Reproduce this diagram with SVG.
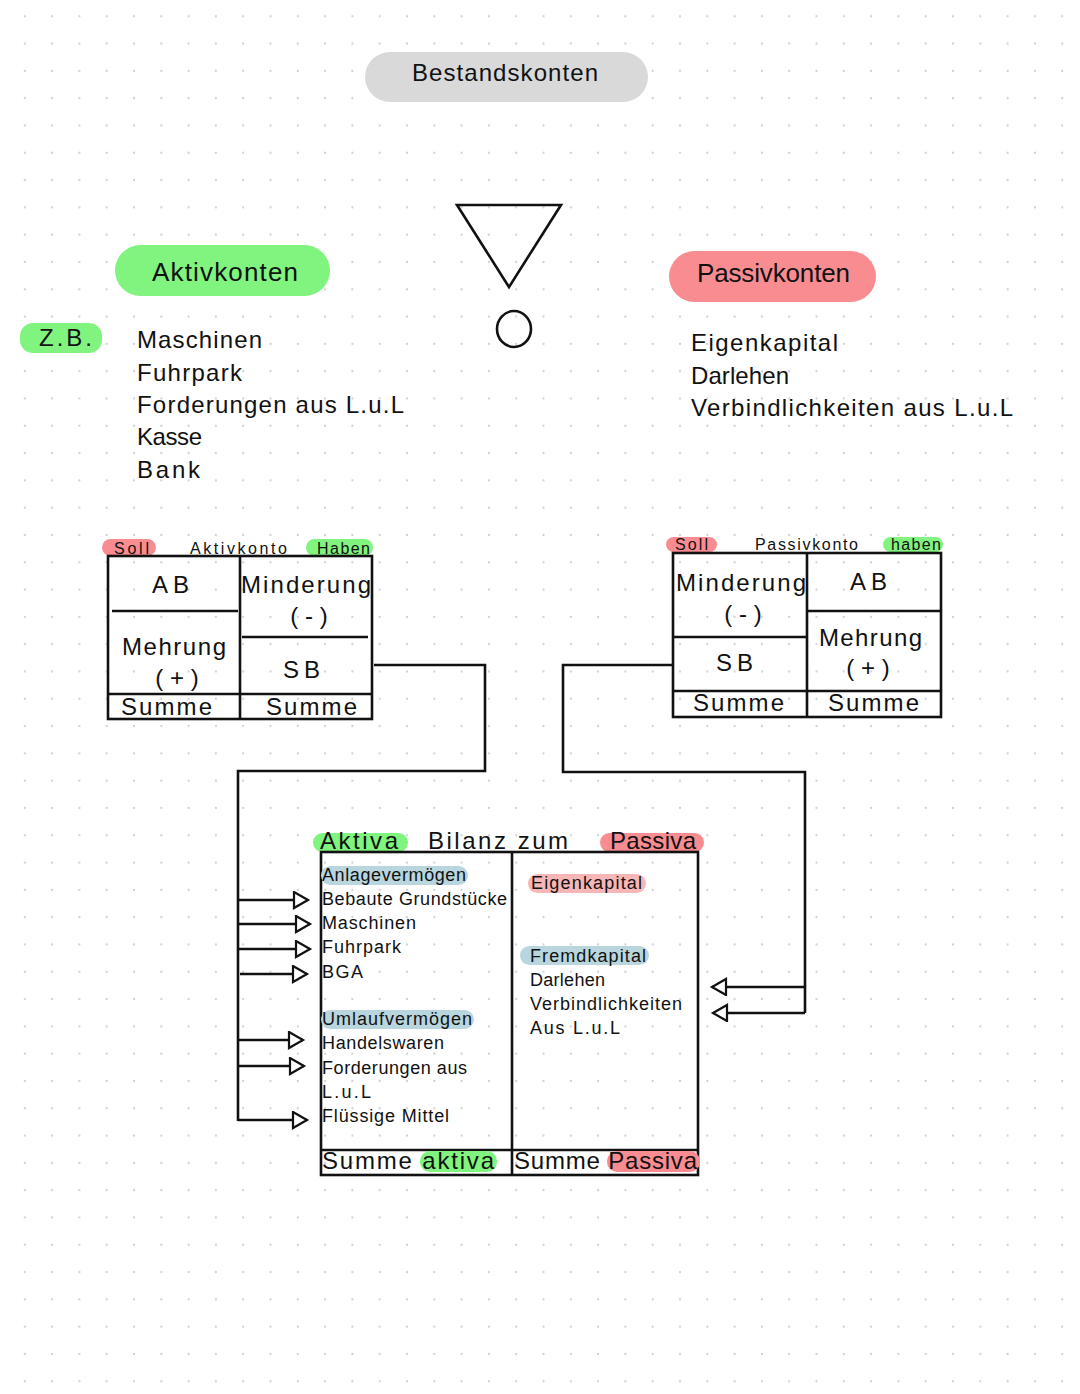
<svg xmlns="http://www.w3.org/2000/svg" width="1080" height="1394" viewBox="0 0 1080 1394">
<style>
text{font-family:"Liberation Sans","DejaVu Sans",sans-serif;fill:#111}
.big{font-size:26px}
.mid{font-size:24px}
.sm{font-size:18px}
.xs{font-size:16px}
.ln{stroke:#111;stroke-width:2.6;fill:none}
.box{stroke:#111;stroke-width:2.6;fill:none}
.c{text-anchor:middle}
</style>
<defs>
<pattern id="dots" width="27.3" height="27.3" patternUnits="userSpaceOnUse" x="11.15" y="2.65">
<circle cx="13.65" cy="13.65" r="1.1" fill="#cfcfcf"/>
</pattern>
<marker id="tri" markerUnits="userSpaceOnUse" markerWidth="20" markerHeight="22" refX="16" refY="9" orient="auto" viewBox="0 0 20 22">
<path d="M2,1 L16,9 L2,17 Z" fill="#fff" stroke="#111" stroke-width="2.2" stroke-linejoin="miter"/>
</marker>
</defs>
<rect width="1080" height="1394" fill="#fff"/>
<rect width="1080" height="1394" fill="url(#dots)"/>

<g id="bestandskonten">
<rect x="365" y="52" width="283" height="50" rx="25" fill="#d9d9d9"/>
<text class="mid" x="412" y="81" textLength="186">Bestandskonten</text>
</g>

<g id="symbol">
<polygon points="457,205 561,205 509,287" fill="none" stroke="#111" stroke-width="2.6"/>
<ellipse cx="514" cy="329" rx="17" ry="18" fill="none" stroke="#111" stroke-width="2.6"/>
</g>

<g id="aktivkonten">
<rect x="115" y="245" width="215" height="51" rx="25.5" fill="#80f47e"/>
<text class="big" x="152" y="281" textLength="146">Aktivkonten</text>
</g>

<g id="passivkonten">
<rect x="669" y="251" width="207" height="51" rx="25.5" fill="#f98c90"/>
<text class="big" x="697" y="282" textLength="153">Passivkonten</text>
</g>

<g id="zb">
<rect x="20" y="323" width="82" height="30" rx="13" fill="#80f47e"/>
<text class="mid" x="39" y="346" textLength="53">Z.B.</text>
</g>

<g id="aktiv-liste">
<text class="mid" x="137" y="348" textLength="125">Maschinen</text>
<text class="mid" x="137" y="381" textLength="105">Fuhrpark</text>
<text class="mid" x="137" y="413" textLength="267">Forderungen aus L.u.L</text>
<text class="mid" x="137" y="445" textLength="65">Kasse</text>
<text class="mid" x="137" y="478" textLength="63">Bank</text>
</g>

<g id="passiv-liste">
<text class="mid" x="691" y="351" textLength="147">Eigenkapital</text>
<text class="mid" x="691" y="384" textLength="98">Darlehen</text>
<text class="mid" x="691" y="416" textLength="322">Verbindlichkeiten aus L.u.L</text>
</g>

<g id="aktivkonto">
<rect x="102" y="539" width="54" height="17" rx="8.5" fill="#f98c90"/>
<rect x="306" y="539" width="67" height="17" rx="8.5" fill="#80f47e"/>
<text class="xs" x="114" y="554" textLength="35">Soll</text>
<text class="xs" x="190" y="554" textLength="97">Aktivkonto</text>
<text class="xs" x="317" y="554" textLength="53">Haben</text>
<rect class="box" x="108" y="556" width="264" height="163"/>
<line class="ln" x1="240" y1="556" x2="240" y2="719"/>
<line class="ln" x1="112" y1="611" x2="238" y2="611"/>
<line class="ln" x1="242" y1="637" x2="368" y2="637"/>
<line class="ln" x1="108" y1="694" x2="372" y2="694"/>
<text class="mid" x="152" y="593" textLength="37">AB</text>
<text class="mid" x="241" y="593" textLength="130">Minderung</text>
<text class="mid c" x="309" y="624">( - )</text>
<text class="mid" x="122" y="655" textLength="104">Mehrung</text>
<text class="mid c" x="177" y="686">( + )</text>
<text class="mid" x="283" y="678" textLength="37">SB</text>
<text class="mid" x="121" y="715" textLength="91">Summe</text>
<text class="mid" x="266" y="715" textLength="91">Summe</text>
</g>

<g id="passivkonto">
<rect x="666" y="537" width="51" height="15" rx="7.5" fill="#f98c90"/>
<rect x="883" y="537" width="60" height="15" rx="7.5" fill="#80f47e"/>
<text class="xs" x="675" y="550" textLength="33">Soll</text>
<text class="xs" x="755" y="550" textLength="103">Passivkonto</text>
<text class="xs" x="891" y="550" textLength="50">haben</text>
<rect class="box" x="673" y="553" width="268" height="164"/>
<line class="ln" x1="807" y1="553" x2="807" y2="717"/>
<line class="ln" x1="673" y1="637" x2="807" y2="637"/>
<line class="ln" x1="807" y1="611" x2="941" y2="611"/>
<line class="ln" x1="673" y1="691" x2="941" y2="691"/>
<text class="mid" x="676" y="591" textLength="130">Minderung</text>
<text class="mid c" x="743" y="622">( - )</text>
<text class="mid" x="850" y="590" textLength="37">AB</text>
<text class="mid" x="716" y="671" textLength="37">SB</text>
<text class="mid" x="819" y="646" textLength="103">Mehrung</text>
<text class="mid c" x="868" y="676">( + )</text>
<text class="mid" x="693" y="711" textLength="91">Summe</text>
<text class="mid" x="828" y="711" textLength="91">Summe</text>
</g>

<g id="bilanz">
<rect x="313" y="833" width="95" height="19" rx="9.5" fill="#80f47e"/>
<rect x="600" y="833" width="104" height="19" rx="9.5" fill="#f98c90"/>
<text class="mid" x="320" y="849" textLength="78">Aktiva</text>
<text class="mid" x="428" y="849" textLength="140">Bilanz zum</text>
<text class="mid" x="610" y="849" textLength="86">Passiva</text>
<rect class="box" x="321" y="852" width="377" height="323"/>
<line class="ln" x1="512" y1="852" x2="512" y2="1175"/>
<line class="ln" x1="321" y1="1150" x2="698" y2="1150"/>
<rect x="321" y="866" width="147" height="19" rx="9.5" fill="#b9d6de"/>
<rect x="321" y="1010" width="153" height="19" rx="9.5" fill="#b9d6de"/>
<rect x="528" y="874" width="118" height="19" rx="9.5" fill="#f8b6b6"/>
<rect x="520" y="946" width="129" height="19" rx="9.5" fill="#b9d6de"/>
<rect x="420" y="1151" width="77" height="21" rx="10" fill="#80f47e"/>
<rect x="607" y="1151" width="93" height="21" rx="10" fill="#f98c90"/>
<text class="sm" x="322" y="881" textLength="144">Anlagevermögen</text>
<text class="sm" x="322" y="905" textLength="185">Bebaute Grundstücke</text>
<text class="sm" x="322" y="929" textLength="94">Maschinen</text>
<text class="sm" x="322" y="953" textLength="79">Fuhrpark</text>
<text class="sm" x="322" y="978" textLength="41">BGA</text>
<text class="sm" x="322" y="1025" textLength="150">Umlaufvermögen</text>
<text class="sm" x="322" y="1049" textLength="122">Handelswaren</text>
<text class="sm" x="322" y="1074" textLength="145">Forderungen aus</text>
<text class="sm" x="322" y="1098" textLength="49">L.u.L</text>
<text class="sm" x="322" y="1122" textLength="127">Flüssige Mittel</text>
<text class="sm" x="531" y="889" textLength="111">Eigenkapital</text>
<text class="sm" x="530" y="962" textLength="116">Fremdkapital</text>
<text class="sm" x="530" y="986" textLength="75">Darlehen</text>
<text class="sm" x="530" y="1010" textLength="152">Verbindlichkeiten</text>
<text class="sm" x="530" y="1034" textLength="90">Aus L.u.L</text>
<text class="mid" x="322" y="1169" textLength="172">Summe aktiva</text>
<text class="mid" x="514" y="1169" textLength="183">Summe Passiva</text>
</g>

<g id="connectors">
<polyline class="ln" points="374,665 485,665 485,771 238,771 238,1121"/>
<line class="ln" x1="238" y1="900" x2="308" y2="900" marker-end="url(#tri)"/>
<line class="ln" x1="238" y1="924" x2="310" y2="924" marker-end="url(#tri)"/>
<line class="ln" x1="238" y1="949" x2="310" y2="949" marker-end="url(#tri)"/>
<line class="ln" x1="240" y1="974" x2="307" y2="974" marker-end="url(#tri)"/>
<line class="ln" x1="238" y1="1040" x2="303" y2="1040" marker-end="url(#tri)"/>
<line class="ln" x1="238" y1="1066" x2="304" y2="1066" marker-end="url(#tri)"/>
<polyline class="ln" points="238,1120 307,1120" marker-end="url(#tri)"/>
<polyline class="ln" points="672,665 563,665 563,772 805,772 805,1013"/>
<line class="ln" x1="805" y1="987" x2="712" y2="987" marker-end="url(#tri)"/>
<line class="ln" x1="805" y1="1013" x2="713" y2="1013" marker-end="url(#tri)"/>
</g>
</svg>
